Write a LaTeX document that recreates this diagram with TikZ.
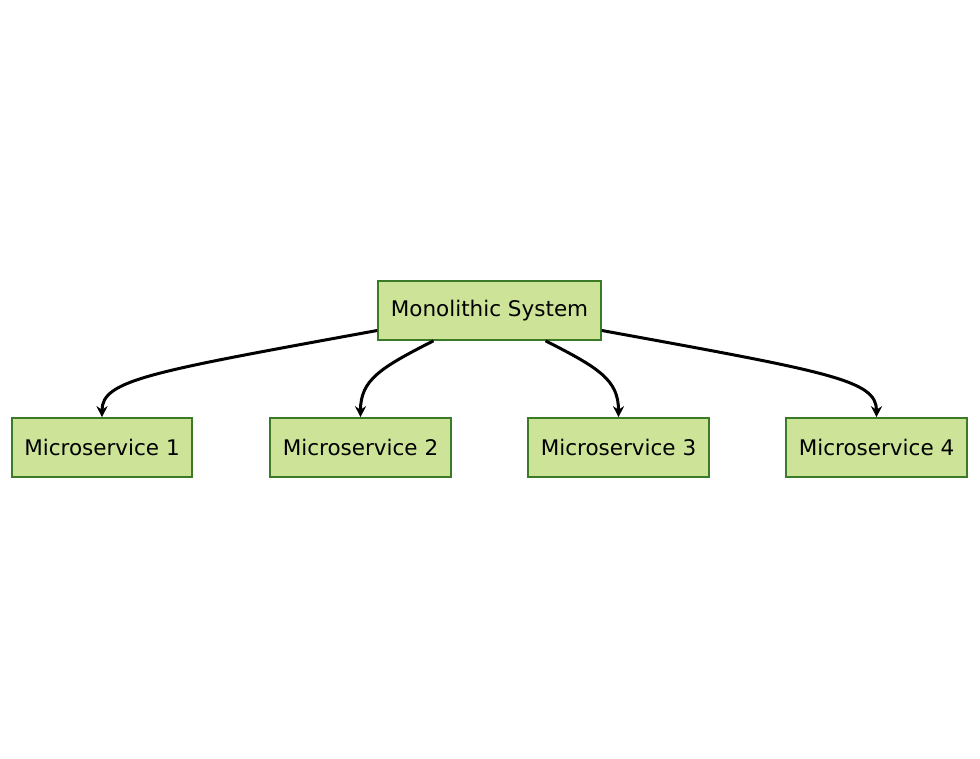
\documentclass[tikz,border=0pt]{standalone}
\usepackage{fontspec}
\setmainfont{DejaVu Sans}
\usetikzlibrary{arrows.meta}
\definecolor{boxfill}{HTML}{CDE498}
\definecolor{boxline}{HTML}{3B7A27}
\begin{document}
\begin{tikzpicture}[x=1pt,y=-1pt,
  svc/.style={draw=boxline,fill=boxfill,line width=1.6pt,minimum height=59pt,inner sep=0pt,font=\fontsize{21.5}{24}\selectfont,anchor=center},
  link/.style={line width=3pt,-{Stealth[length=11pt,width=11pt]}}]
\useasboundingbox (0,0) rectangle (980,759);
\fill[white] (0,0) rectangle (980,759);
\node[svc,minimum width=223pt] (m) at (489.5,310.5) {Monolithic System};
\node[svc,minimum width=180pt] (s1) at (102,447.5) {Microservice 1};
\node[svc,minimum width=181pt] (s2) at (360.5,447.5) {Microservice 2};
\node[svc,minimum width=181pt] (s3) at (618.5,447.5) {Microservice 3};
\node[svc,minimum width=181pt] (s4) at (876.5,447.5) {Microservice 4};
\coordinate (a1) at ([yshift=-20pt]m.west);
\coordinate (a2) at ([xshift=-56pt]m.south);
\coordinate (a3) at ([xshift=56pt]m.south);
\coordinate (a4) at ([yshift=-20pt]m.east);
\draw[link] (a1) .. controls (150,372) and (102,380) .. (s1.north);
\draw[link] (a2) .. controls (380,368) and (360.5,380) .. (s2.north);
\draw[link] (a3) .. controls (599,368) and (618.5,380) .. (s3.north);
\draw[link] (a4) .. controls (829,372) and (876.5,380) .. (s4.north);
\end{tikzpicture}
\end{document}
